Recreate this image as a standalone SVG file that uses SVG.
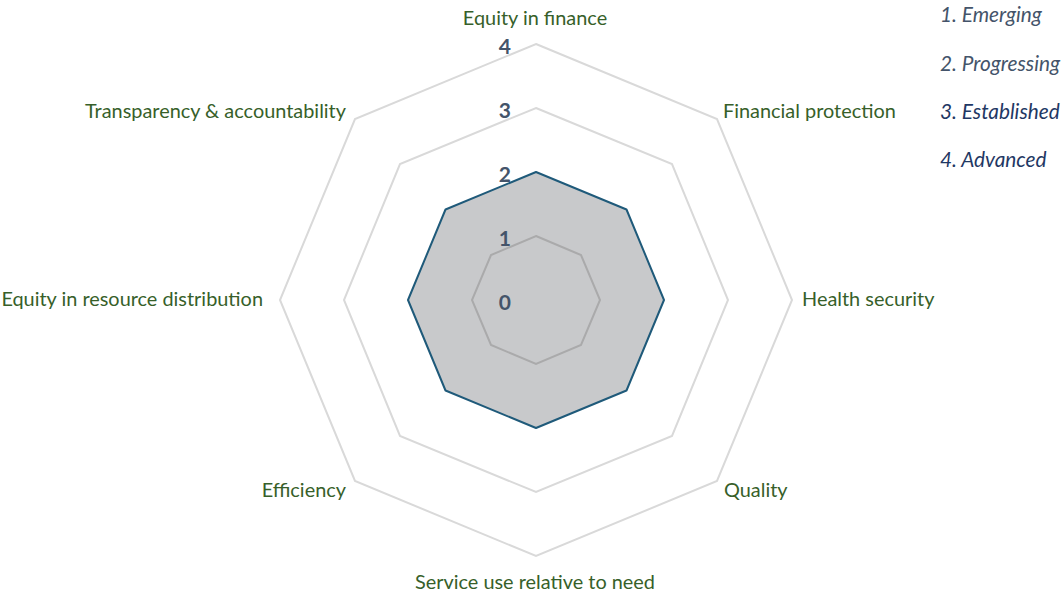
<svg xmlns="http://www.w3.org/2000/svg" width="1064" height="593" viewBox="0 0 1064 593">
<style>
.grid{fill:none;stroke:#d9d9d9;stroke-width:2}
.lbl{font-family:Lato,"Open Sans",sans-serif;font-size:19.9px;fill:#375f2a}
.num{font-family:Lato,"Open Sans",sans-serif;font-size:21px;font-weight:bold;fill:#44546a;text-anchor:end}
.leg{font-family:Lato,"Open Sans",sans-serif;font-size:20.8px;font-style:italic}
</style>
<rect width="1064" height="593" fill="#ffffff"/>
<g id="grid">
<polygon class="grid" points="536,44 717,119 792,300 717,481 536,556 355,481 280,300 355,119"/>
<polygon class="grid" points="536,108 672,164 728,300 672,436 536,492 400,436 344,300 400,164"/>
</g>
<g id="data">
<polygon points="536,172 626.5,209.5 664,300 626.5,390.5 536,428 445.5,390.5 408,300 445.5,209.5" fill="#c8c9cb" stroke="#1f5a7a" stroke-width="2" stroke-linejoin="round"/>
</g>
<g id="grid-inner">
<polygon points="536,236 581,255 600,300 581,345 536,364 491,345 472,300 491,255" fill="none" stroke="#aaaaab" stroke-width="2"/>
</g>
<g id="scale">
<text class="num" x="511" y="54">4</text>
<text class="num" x="511" y="118">3</text>
<text class="num" x="511" y="182">2</text>
<text class="num" x="511" y="246">1</text>
<text class="num" x="511" y="310">0</text>
</g>
<g id="axis-labels">
<text class="lbl" x="535" y="25" text-anchor="middle">Equity in finance</text>
<text class="lbl" x="723" y="118">Financial protection</text>
<text class="lbl" x="802" y="306">Health security</text>
<text class="lbl" x="724" y="497">Quality</text>
<text class="lbl" x="535" y="589" text-anchor="middle">Service use relative to need</text>
<text class="lbl" x="346" y="497" text-anchor="end">Efficiency</text>
<text class="lbl" x="263" y="306" text-anchor="end">Equity in resource distribution</text>
<text class="lbl" x="346" y="118" text-anchor="end">Transparency &amp; accountability</text>
</g>
<g id="legend">
<text class="leg" x="940" y="22" fill="#44546a">1. Emerging</text>
<text class="leg" x="940" y="71" fill="#44546a">2. Progressing</text>
<text class="leg" x="940" y="119" fill="#1f3864">3. Established</text>
<text class="leg" x="940" y="167" fill="#1f3864">4. Advanced</text>
</g>
</svg>
